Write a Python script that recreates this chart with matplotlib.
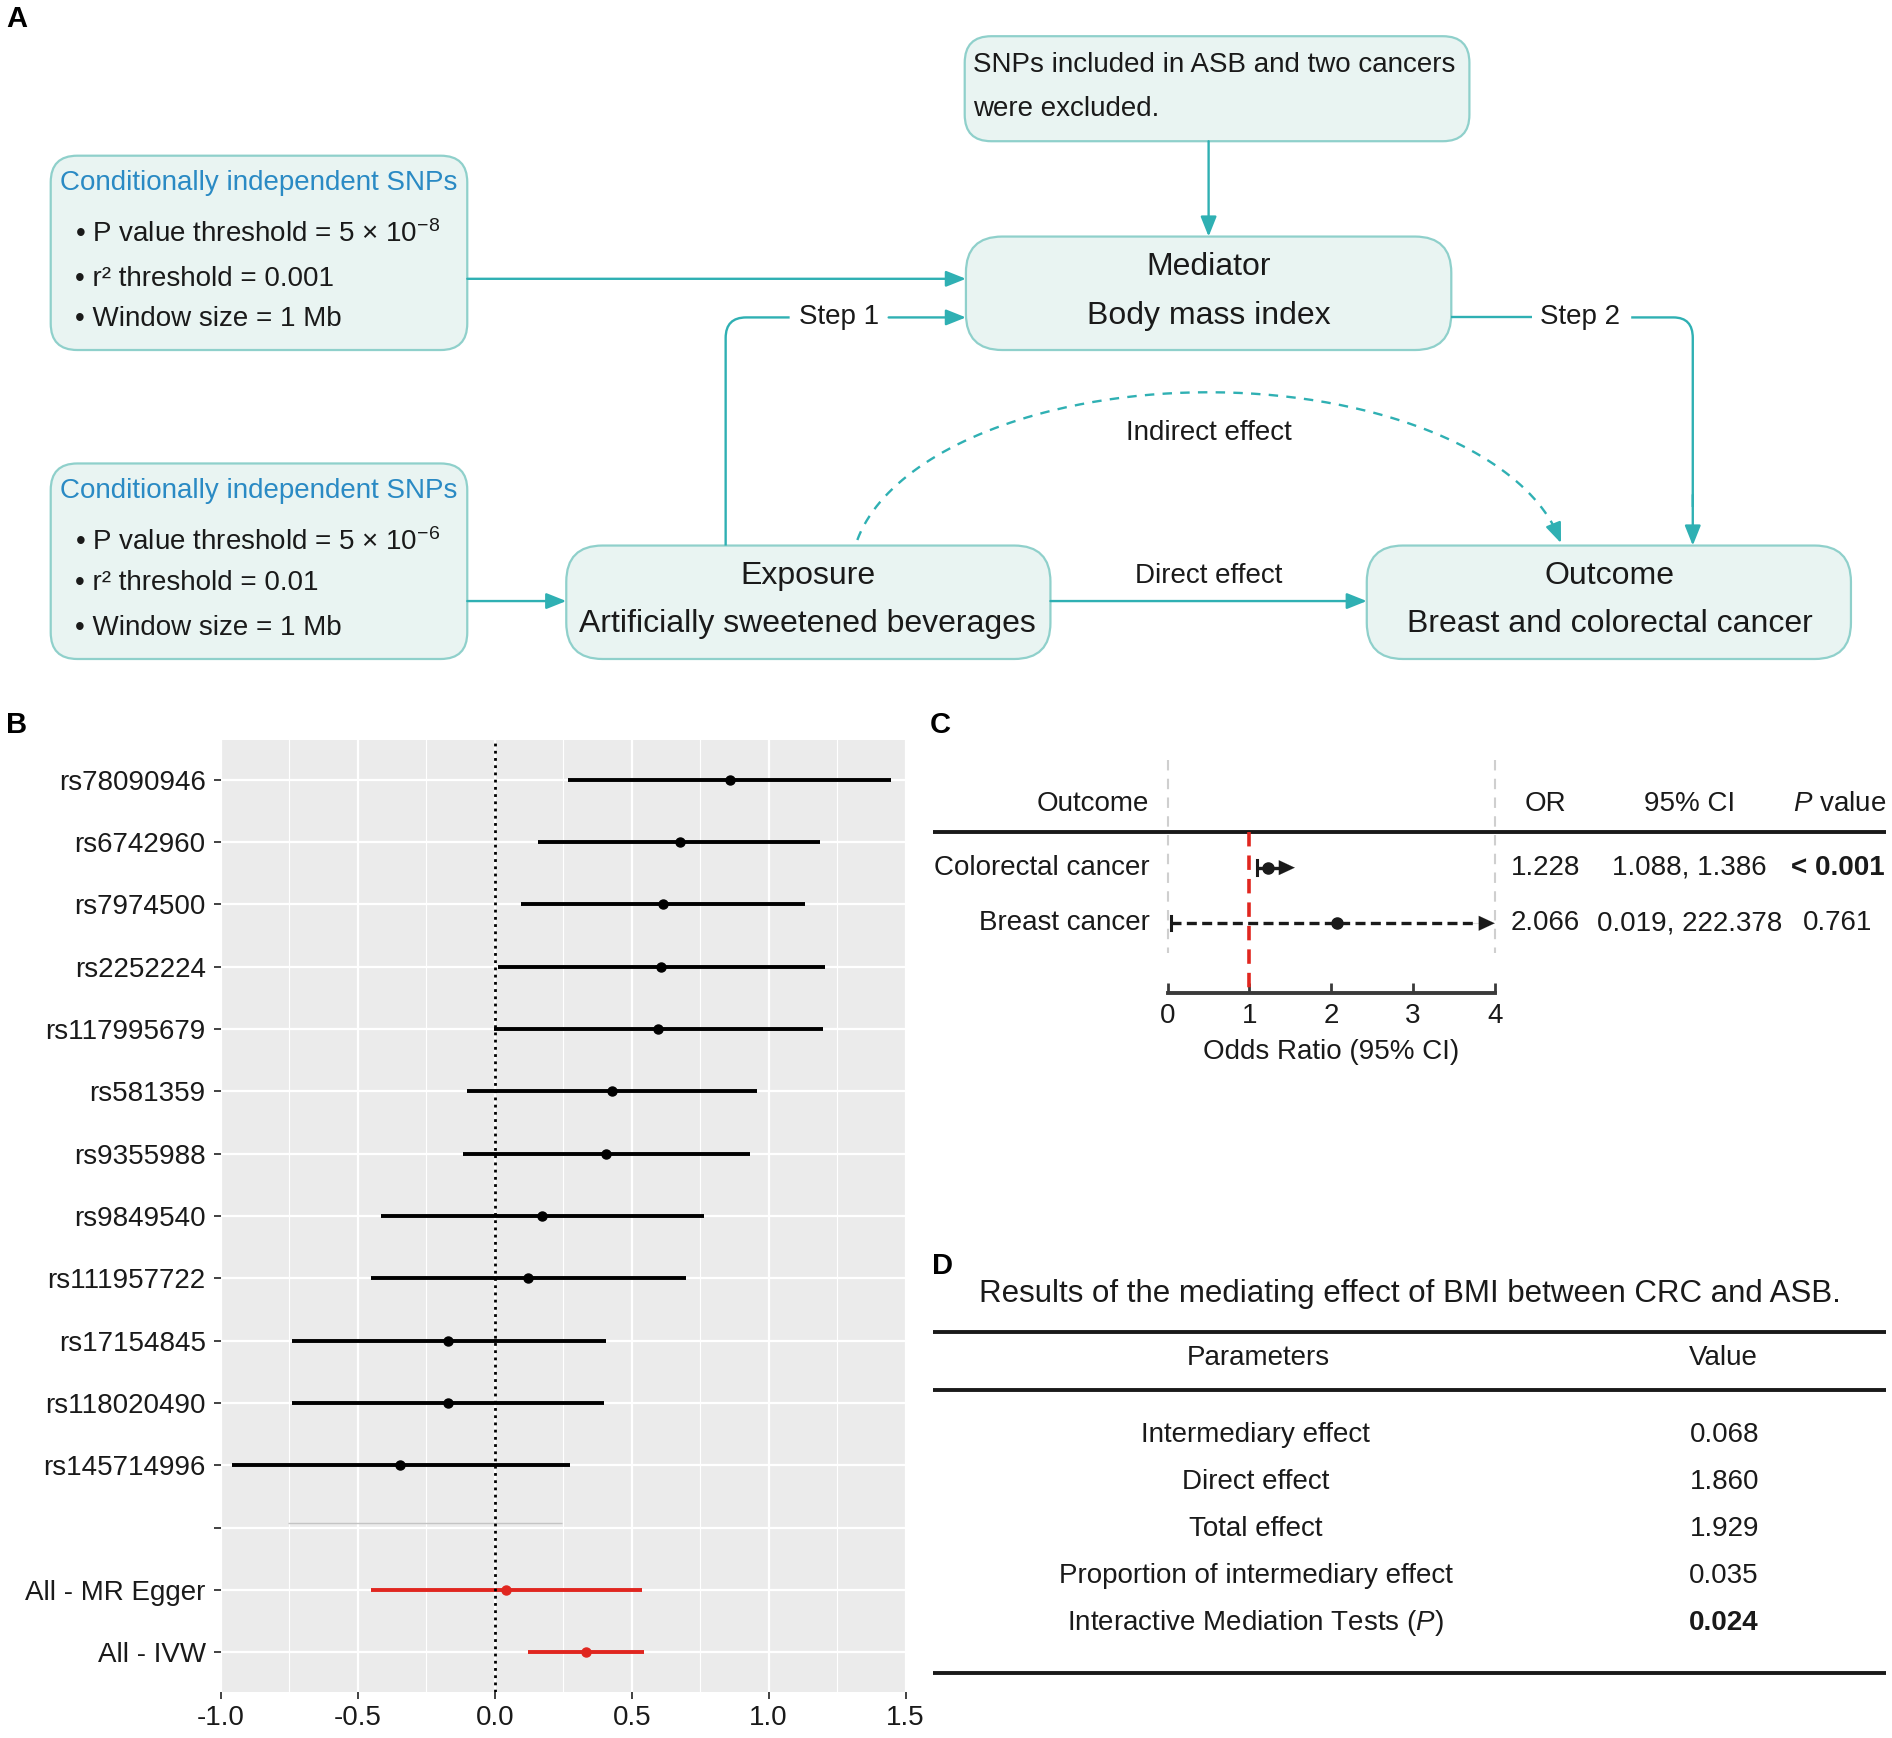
import numpy as np
import matplotlib
matplotlib.use("Agg")
import matplotlib.pyplot as plt
from matplotlib.patches import FancyBboxPatch, FancyArrowPatch, PathPatch
from matplotlib.path import Path

plt.rcParams['font.family'] = ['Liberation Sans', 'DejaVu Sans']
plt.rcParams['mathtext.fontset'] = 'custom'
plt.rcParams['mathtext.rm'] = 'Liberation Sans'
plt.rcParams['mathtext.it'] = 'Liberation Sans:italic'
plt.rcParams['mathtext.bf'] = 'Liberation Sans:bold'

# ---------------- data ----------------
snp_labels = ["rs78090946", "rs6742960", "rs7974500", "rs2252224", "rs117995679",
              "rs581359", "rs9355988", "rs9849540", "rs111957722", "rs17154845",
              "rs118020490", "rs145714996"]
snp_beta = [0.858, 0.675, 0.616, 0.608, 0.595, 0.429, 0.407, 0.172, 0.123, -0.170, -0.172, -0.345]
snp_lo = [0.269, 0.159, 0.097, 0.011, -0.004, -0.101, -0.116, -0.416, -0.453, -0.741, -0.739, -0.961]
snp_hi = [1.448, 1.188, 1.131, 1.205, 1.198, 0.959, 0.933, 0.763, 0.698, 0.405, 0.397, 0.276]
summary_labels = ["All - MR Egger", "All - IVW"]
summary_beta = [0.041, 0.332]
summary_lo = [-0.453, 0.121]
summary_hi = [0.537, 0.545]
b_xticks = [-1.0, -0.5, 0.0, 0.5, 1.0, 1.5]

c_outcomes = ["Colorectal cancer", "Breast cancer"]
c_or = [1.228, 2.066]
c_lo = [1.088, 0.019]
c_hi = [1.386, 222.378]
c_or_txt = ["1.228", "2.066"]
c_ci_txt = ["1.088, 1.386", "0.019, 222.378"]
c_p_txt = ["< 0.001", "0.761"]
c_p_bold = [True, False]
c_xticks = [0, 1, 2, 3, 4]

d_params = ["Intermediary effect", "Direct effect", "Total effect",
            "Proportion of intermediary effect", r"Interactive Mediation Tests ($\mathit{P}$)"]
d_values = ["0.068", "1.860", "1.929", "0.035", "0.024"]
d_bold = [False, False, False, False, True]

# ---------------- figure ----------------
W, H = 1567.0, 1440.0
fig = plt.figure(figsize=(18.92, 17.38), dpi=100)
fig.patch.set_facecolor('white')

axA = fig.add_axes([0, 0, 1, 1])
axA.set_xlim(0, W)
axA.set_ylim(H, 0)
axA.axis('off')

TEAL = '#2fb0b3'
BOX_EDGE = '#8fd0cb'
BOX_FILL = '#e9f4f2'
BLUE = '#2a8ac4'
TXT = '#1a1a1a'
FS = 20


def box(x0, y0, x1, y1, r=22):
    p = FancyBboxPatch((x0, y0), x1 - x0, y1 - y0,
                       boxstyle=f"round,pad=0,rounding_size={r}",
                       fc=BOX_FILL, ec=BOX_EDGE, lw=1.6, zorder=2)
    axA.add_patch(p)


def arrow(p0, p1, ls='-'):
    a = FancyArrowPatch(p0, p1, arrowstyle='-|>,head_length=0.55,head_width=0.22',
                        mutation_scale=22, color=TEAL, lw=1.7, shrinkA=0, shrinkB=0,
                        linestyle=ls, zorder=3)
    axA.add_patch(a)


def line(xs, ys, **kw):
    axA.plot(xs, ys, color=TEAL, lw=1.7, solid_capstyle='butt', zorder=3, **kw)


# panel labels
for lab, (x, y) in {"A": (5, 16), "B": (5, 601), "C": (770, 601), "D": (772, 1049)}.items():
    axA.text(x, y, lab, fontsize=21, fontweight='bold', va='center', ha='left', color='black')

# boxes
box(799, 30, 1217, 117)
box(42, 129, 387, 290)
box(42, 384, 387, 546)
box(800, 196, 1202, 290, r=30)
box(469, 452, 870, 546, r=30)
box(1132, 452, 1533, 546, r=30)

# top box text
axA.text(806, 54, "SNPs included in ASB and two cancers", fontsize=FS, va='center', ha='left', color=TXT, zorder=4)
axA.text(806, 90, "were excluded.", fontsize=FS, va='center', ha='left', color=TXT, zorder=4)

# SNP boxes
for y0, exp, r2, dy in [(152, "-8", "0.001", (42, 79, 112)), (407, "-6", "0.01", (42, 76, 113))]:
    axA.text(50, y0, "Conditionally independent SNPs", fontsize=FS, color=BLUE, va='center', ha='left', zorder=4)
    axA.text(62, y0 + dy[0], "• P value threshold = 5 × $10^{" + exp + "}$",
             fontsize=FS, color=TXT, va='center', ha='left', zorder=4)
    axA.text(62, y0 + dy[1], "• r² threshold = " + r2,
             fontsize=FS, color=TXT, va='center', ha='left', zorder=4)
    axA.text(62, y0 + dy[2], "• Window size = 1 Mb",
             fontsize=FS, color=TXT, va='center', ha='left', zorder=4)

# node boxes
for cx, ylist, txts in [(1001, (221, 262), ("Mediator", "Body mass index")),
                        (669, (477, 517), ("Exposure", "Artificially sweetened beverages")),
                        (1333, (477, 517), ("Outcome", "Breast and colorectal cancer"))]:
    for yy, tt in zip(ylist, txts):
        axA.text(cx, yy, tt, fontsize=23, color=TXT, va='center', ha='center', zorder=4)

# arrows
arrow((387, 231), (800, 231))
arrow((1001, 117), (1001, 196))
arrow((387, 498), (469, 498))
arrow((870, 498), (1132, 498))
axA.text(1001, 477, "Direct effect", fontsize=FS, color=TXT, va='center', ha='center')

# step 1
verts = [(601, 452), (601, 280), (601, 263), (618, 263), (654, 263)]
codes = [Path.MOVETO, Path.LINETO, Path.CURVE3, Path.CURVE3, Path.LINETO]
axA.add_patch(PathPatch(Path(verts, codes), fill=False, ec=TEAL, lw=1.7, zorder=3))
arrow((736, 263), (800, 263))
axA.text(695, 263, "Step 1", fontsize=FS, color=TXT, va='center', ha='center')

# step 2
line([1202, 1269], [263, 263])
verts = [(1351, 263), (1386, 263), (1402, 263), (1402, 280), (1402, 420)]
axA.add_patch(PathPatch(Path(verts, codes), fill=False, ec=TEAL, lw=1.7, zorder=3))
arrow((1402, 410), (1402, 452))
axA.text(1309, 263, "Step 2", fontsize=FS, color=TXT, va='center', ha='center')

# indirect effect dashed arc
cxe, cye, ae, be = 1001, 475, 296, 150
th = np.radians(np.linspace(169.4, 12.5, 200))
axA.plot(cxe + ae * np.cos(th), cye - be * np.sin(th), color=TEAL, lw=1.7,
         dashes=(4, 3.5), zorder=3)
t0, t1 = np.radians(13.5), np.radians(9.6)
arrow((cxe + ae * np.cos(t0), cye - be * np.sin(t0)), (cxe + ae * np.cos(t1), cye - be * np.sin(t1)))
axA.text(1001, 359, "Indirect effect", fontsize=FS, color=TXT, va='center', ha='center')

# ---------------- panel B ----------------
bx0, bx1, by0, by1 = 183, 750, 613, 1402
axB = fig.add_axes([bx0 / W, 1 - by1 / H, (bx1 - bx0) / W, (by1 - by0) / H])
axB.set_facecolor('#EBEBEB')
for s in axB.spines.values():
    s.set_visible(False)
labels = snp_labels + [""] + summary_labels
n = len(labels)
ypos = np.arange(n)
axB.set_xlim(-1.0, 1.5)
axB.set_ylim(n - 1 + 0.64, -0.64)
axB.set_xticks(b_xticks)
axB.set_xticklabels([f"{v:.1f}" for v in b_xticks])
axB.set_xticks(np.arange(-0.75, 1.5, 0.5), minor=True)
axB.set_yticks(ypos)
axB.set_yticklabels(labels)
axB.grid(which='major', color='white', lw=1.6)
axB.grid(which='minor', axis='x', color='white', lw=0.8)
axB.set_axisbelow(True)
axB.tick_params(axis='both', which='major', length=5, width=1.3, color='#333333',
                labelsize=FS, labelcolor='#1a1a1a', pad=6)
axB.tick_params(axis='x', which='minor', length=0)
axB.tick_params(axis='x', pad=4)

snp_rows = ypos[:len(snp_labels)]
axB.hlines(snp_rows, snp_lo, snp_hi, color='black', lw=2.8, zorder=3)
axB.plot(snp_beta, snp_rows, 'o', color='black', ms=6.5, zorder=4)
sum_rows = ypos[len(snp_labels) + 1:]
axB.hlines(sum_rows, summary_lo, summary_hi, color='#e0261f', lw=2.8, zorder=3)
axB.plot(summary_beta, sum_rows, 'o', color='#e0261f', ms=6.5, zorder=4)
axB.axvline(0, color='black', lw=2.0, ls=(0, (1, 1.6)), zorder=5)
# separator line at the empty row
sep_row = len(snp_labels)
axB.hlines(sep_row - 0.08, -0.754, 0.244, color='#c4c4c4', lw=1.0, zorder=2)

# ---------------- panel C ----------------
cx0, cx1, cy0, cy1 = 967, 1238, 630, 823
axC = fig.add_axes([cx0 / W, 1 - cy1 / H, (cx1 - cx0) / W, (cy1 - cy0) / H])
axC.patch.set_alpha(0)
yb, yt = 3.26, -0.93
axC.set_xlim(0, 4)
axC.set_ylim(yb, yt)
for k in ['top', 'left', 'right']:
    axC.spines[k].set_visible(False)
axC.spines['bottom'].set_linewidth(2.8)
axC.spines['bottom'].set_color('#3a3a3a')
axC.set_yticks([])
axC.set_xticks(c_xticks)
axC.tick_params(axis='x', direction='in', length=7, width=2, color='#3a3a3a',
                labelsize=FS, labelcolor='#1a1a1a', pad=7)
axC.set_xlabel("Odds Ratio (95% CI)", fontsize=FS, color='#1a1a1a', labelpad=7)
axC.plot([0, 0], [yt, 2.54], color='#cfcfcf', lw=1.5, dashes=(5, 4), clip_on=False)
axC.plot([4, 4], [yt, 2.54], color='#cfcfcf', lw=1.5, dashes=(5, 4), clip_on=False)
axC.plot([1, 1], [0.35, yb], color='#e0261f', lw=2.6, dashes=(4, 2.5), zorder=2)

xmax = 4.0
for i, (o, lo, hi) in enumerate(zip(c_or, c_lo, c_hi)):
    y = i + 1
    lo_c = max(lo, 0.04)
    hi_c = min(hi, xmax)
    axC.plot([lo_c, lo_c], [y - 0.13, y + 0.13], color='#1a1a1a', lw=2.2, zorder=4)
    seg_end = hi_c if hi <= xmax else xmax - 0.25
    axC.plot([lo_c, seg_end], [y, y], color='#1a1a1a', lw=2.4, dashes=(3, 1.6), zorder=4)
    tip = hi_c + 0.17 if hi <= xmax else xmax
    axC.annotate('', xy=(tip, y), xytext=(tip - 0.3, y),
                 arrowprops=dict(arrowstyle='-|>,head_length=0.6,head_width=0.28',
                                 color='#1a1a1a', lw=0.1, mutation_scale=19, shrinkA=0, shrinkB=0),
                 zorder=4)
    axC.plot([o], [y], 'o', color='#1a1a1a', ms=8, zorder=5)

# table text C
axA.text(952, 666, "Outcome", fontsize=FS, ha='right', va='center', color=TXT)
axA.text(1280, 666, "OR", fontsize=FS, ha='center', va='center', color=TXT)
axA.text(1399, 666, "95% CI", fontsize=FS, ha='center', va='center', color=TXT)
axA.text(1562, 666, r"$\mathit{P}$ value", fontsize=FS, ha='right', va='center', color=TXT)
axA.plot([773, 1562], [689, 689], color='#1a1a1a', lw=2.8, solid_capstyle='butt', zorder=6)
for i, ry in enumerate([719, 765]):
    axA.text(952, ry, c_outcomes[i], fontsize=FS, ha='right', va='center', color=TXT)
    axA.text(1280, ry, c_or_txt[i], fontsize=FS, ha='center', va='center', color=TXT)
    axA.text(1399, ry, c_ci_txt[i], fontsize=FS, ha='center', va='center', color=TXT)
    axA.text(1522, ry, c_p_txt[i], fontsize=FS, ha='center', va='center', color=TXT,
             fontweight='bold' if c_p_bold[i] else 'normal')

# ---------------- panel D ----------------
axA.text(1168, 1072, "Results of the mediating effect of BMI between CRC and ASB.",
         fontsize=22.5, ha='center', va='center', color=TXT)
for yy in (1104, 1152, 1386):
    axA.plot([773, 1562], [yy, yy], color='#1a1a1a', lw=2.8, solid_capstyle='butt')
axA.text(1042, 1125, "Parameters", fontsize=FS, ha='center', va='center', color=TXT)
axA.text(1427, 1125, "Value", fontsize=FS, ha='center', va='center', color=TXT)
for i, ry in enumerate([1189, 1228, 1267, 1306, 1345]):
    axA.text(1040, ry, d_params[i], fontsize=FS, ha='center', va='center', color=TXT)
    axA.text(1428, ry, d_values[i], fontsize=FS, ha='center', va='center', color=TXT,
             fontweight='bold' if d_bold[i] else 'normal')

fig.savefig("out.png", dpi=100, facecolor='white')
